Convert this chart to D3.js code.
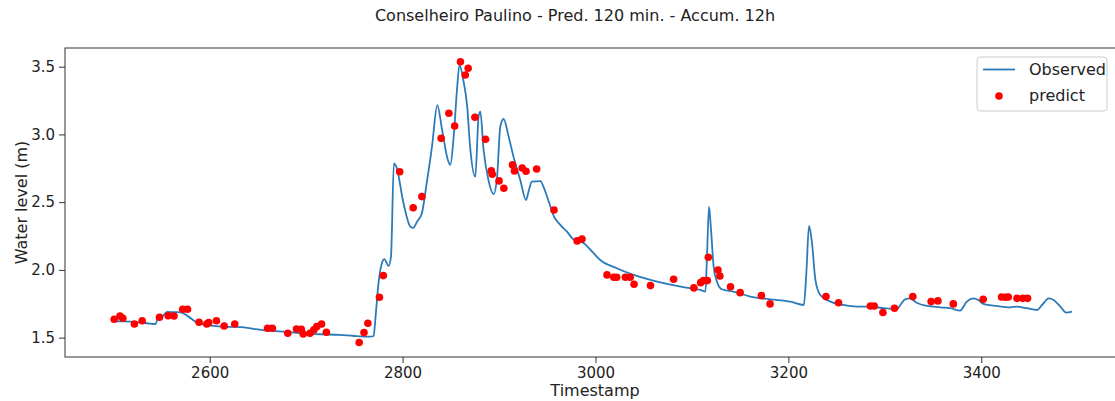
<!DOCTYPE html>
<html>
<head>
<meta charset="utf-8">
<script src="https://cdn.jsdelivr.net/npm/d3@7"></script>
<style>
  body { margin: 0; background: #fff; }
  svg { font-family: "DejaVu Sans", sans-serif; display: block; }
  .tick text { fill: #222; }
</style>
</head>
<body>
<svg width="1115" height="401"></svg>
<script>
// observed water level (timestamp, metres)
var obsT = [2500, 2510, 2518, 2527, 2535, 2544, 2546, 2550, 2556, 2563, 2570, 2578, 2587, 2595, 2604, 2618,
  2632, 2645, 2659, 2676, 2694, 2715, 2735, 2750, 2766, 2770, 2772, 2775, 2779, 2781, 2785.5, 2788,
  2791, 2793.5, 2801, 2808, 2811, 2815, 2820, 2825, 2830.5, 2836, 2841, 2847, 2849.5, 2853, 2856.4,
  2859, 2863, 2867, 2870, 2875.4, 2878.8, 2880.6, 2884, 2889, 2894.4, 2898, 2901.3, 2904.7, 2910,
  2915, 2922, 2928, 2931, 2934, 2943, 2946, 2951, 2957, 2963.5, 2970.5, 2977, 2988, 2998, 3005,
  3022, 3039.5, 3057, 3074, 3091, 3108.7, 3114, 3115.6, 3117.7, 3119.8, 3122.5, 3126, 3131, 3143,
  3160.5, 3181, 3202, 3216, 3218.6, 3221.4, 3224.5, 3228, 3233, 3243.5, 3257, 3271, 3285, 3299,
  3312.6, 3316, 3321, 3326, 3333, 3344, 3357.5, 3368, 3378, 3385, 3392, 3397, 3402, 3416, 3430,
  3437, 3447, 3458, 3463, 3470, 3475, 3482, 3488, 3494];
var obsV = [1.62, 1.62, 1.618, 1.612, 1.606, 1.60, 1.64, 1.65, 1.69, 1.688, 1.687, 1.655, 1.61, 1.595, 1.586, 1.58,
  1.577, 1.565, 1.552, 1.545, 1.532, 1.525, 1.52, 1.512, 1.507, 1.512, 1.655, 1.90, 2.06, 2.08, 2.03, 2.10,
  2.787, 2.762, 2.49, 2.32, 2.31, 2.356, 2.418, 2.64, 2.91, 3.217, 3.033, 2.81, 2.775, 2.983, 3.328,
  3.513, 3.40, 3.205, 2.91, 2.688, 3.131, 3.168, 2.885, 2.664, 2.56, 2.688, 3.057, 3.114, 2.983,
  2.836, 2.664, 2.516, 2.59, 2.651, 2.656, 2.614, 2.516, 2.393, 2.332, 2.282, 2.226, 2.197, 2.123, 2.073,
  2.012, 1.963, 1.926, 1.896, 1.872, 1.852, 1.84, 2.098, 2.467, 2.295, 2.024, 1.913, 1.857, 1.84,
  1.803, 1.783, 1.766, 1.741, 1.975, 2.324, 2.197, 1.926, 1.815, 1.766, 1.741, 1.729, 1.729, 1.717,
  1.71, 1.741, 1.783, 1.79, 1.758, 1.734, 1.724, 1.717, 1.70, 1.766, 1.79, 1.778, 1.749, 1.734, 1.724,
  1.729, 1.717, 1.704, 1.741, 1.79, 1.778, 1.729, 1.685, 1.692];

// predictions (timestamp, metres)
var predT = [2501, 2507, 2510, 2522, 2530, 2548, 2557, 2563, 2572, 2577, 2589, 2597, 2599, 2607, 2615, 2626,
  2660, 2665, 2681, 2690, 2695, 2697, 2704, 2708, 2711, 2716, 2721, 2755, 2760, 2764,
  2776, 2780, 2797, 2811, 2820, 2840, 2848, 2854, 2860, 2865, 2868, 2875, 2886, 2892, 2893, 2900,
  2905, 2914, 2916, 2924, 2928, 2939, 2957, 2981, 2986,
  3012, 3019, 3022, 3031, 3036, 3040, 3057, 3081, 3102, 3109, 3112, 3116, 3117, 3127, 3129, 3140,
  3150, 3172, 3181, 3239, 3252,
  3285, 3289, 3298, 3310, 3329, 3348, 3355, 3371, 3402, 3421, 3425, 3428, 3437, 3443, 3448];
var predV = [1.636, 1.66, 1.643, 1.601, 1.625, 1.65, 1.662, 1.66, 1.71, 1.71, 1.614, 1.601, 1.611, 1.625, 1.586, 1.601,
  1.569, 1.569, 1.532, 1.564, 1.562, 1.527, 1.532, 1.557, 1.581, 1.601, 1.54, 1.464, 1.537, 1.606,
  1.798, 1.958, 2.725, 2.459, 2.541, 2.971, 3.156, 3.062, 3.537, 3.439, 3.488, 3.127, 2.964, 2.732, 2.706, 2.657,
  2.603, 2.775, 2.73, 2.752, 2.728, 2.745, 2.442, 2.214, 2.228,
  1.963, 1.946, 1.946, 1.946, 1.946, 1.894, 1.884, 1.931, 1.867, 1.906, 1.921, 1.921, 2.093, 1.999, 1.955, 1.876,
  1.832, 1.81, 1.749, 1.803, 1.758,
  1.734, 1.734, 1.685, 1.717, 1.803, 1.766, 1.771, 1.749, 1.783, 1.80, 1.798, 1.80, 1.79, 1.79, 1.79];

var xTicks = [2600, 2800, 3000, 3200, 3400];
var yTicks = [1.5, 2.0, 2.5, 3.0, 3.5];

var svg = d3.select('svg'),
    plotL = 65, plotT = 48, plotR = 1125, plotB = 357;

var x = d3.scaleLinear().domain([2450, 3549]).range([plotL, plotR]),
    y = d3.scaleLinear().domain([1.357, 3.638]).range([plotB, plotT]);

var observed = obsT.map(function(t, i) { return [t, obsV[i]]; }),
    predicted = predT.map(function(t, i) { return [t, predV[i]]; });

// title
svg.append('text')
   .attr('x', 575).attr('y', 21)
   .attr('text-anchor', 'middle')
   .attr('font-size', 16)
   .attr('fill', '#222')
   .text('Conselheiro Paulino - Pred. 120 min. - Accum. 12h');

// axes
var xAxis = svg.append('g')
   .attr('transform', 'translate(0,' + plotB + ')')
   .call(d3.axisBottom(x).tickValues(xTicks).tickSize(6).tickPadding(4).tickFormat(d3.format('d')));
var yAxis = svg.append('g')
   .attr('transform', 'translate(' + plotL + ',0)')
   .call(d3.axisLeft(y).tickValues(yTicks).tickSize(6).tickPadding(4).tickFormat(d3.format('.1f')));

[xAxis, yAxis].forEach(function(a) {
  a.select('.domain').remove();
  a.selectAll('.tick line').attr('stroke', '#333');
  a.selectAll('.tick text').attr('font-size', 15).attr('font-family', '"DejaVu Sans", sans-serif');
});

svg.append('text')
   .attr('x', (plotL + plotR) / 2).attr('y', 396)
   .attr('text-anchor', 'middle')
   .attr('font-size', 16).attr('fill', '#222')
   .text('Timestamp');

svg.append('text')
   .attr('transform', 'translate(27,' + ((plotT + plotB) / 2) + ') rotate(-90)')
   .attr('text-anchor', 'middle')
   .attr('font-size', 16).attr('fill', '#222')
   .text('Water level (m)');

// observed line
var valueline = d3.line()
                  .x(function(d) { return x(d[0]); })
                  .y(function(d) { return y(d[1]); })
                  .curve(d3.curveMonotoneX);

svg.append('path')
   .datum(observed)
   .attr('d', valueline)
   .attr('fill', 'none')
   .attr('stroke', '#2b7bba')
   .attr('stroke-width', 1.8)
   .attr('stroke-linejoin', 'round');

// predicted points
svg.append('g')
   .selectAll('circle')
   .data(predicted)
   .enter().append('circle')
   .attr('cx', function(d) { return x(d[0]); })
   .attr('cy', function(d) { return y(d[1]); })
   .attr('r', 3.8)
   .attr('fill', 'red');

// frame
svg.append('rect')
   .attr('x', plotL).attr('y', plotT)
   .attr('width', plotR - plotL).attr('height', plotB - plotT)
   .attr('fill', 'none')
   .attr('stroke', '#333')
   .attr('stroke-width', 1);

// legend
var legend = svg.append('g');
legend.append('rect')
   .attr('x', 977).attr('y', 57).attr('width', 130).attr('height', 54)
   .attr('rx', 3)
   .attr('fill', 'white').attr('fill-opacity', 0.8)
   .attr('stroke', '#ccc');
legend.append('line')
   .attr('x1', 983).attr('x2', 1015).attr('y1', 69.5).attr('y2', 69.5)
   .attr('stroke', '#2b7bba').attr('stroke-width', 1.8);
legend.append('circle')
   .attr('cx', 999).attr('cy', 96).attr('r', 3.8).attr('fill', 'red');
legend.append('text')
   .attr('x', 1029).attr('y', 75)
   .attr('font-size', 16).attr('fill', '#222')
   .text('Observed');
legend.append('text')
   .attr('x', 1029).attr('y', 101)
   .attr('font-size', 16).attr('fill', '#222')
   .text('predict');
</script>
</body>
</html>
